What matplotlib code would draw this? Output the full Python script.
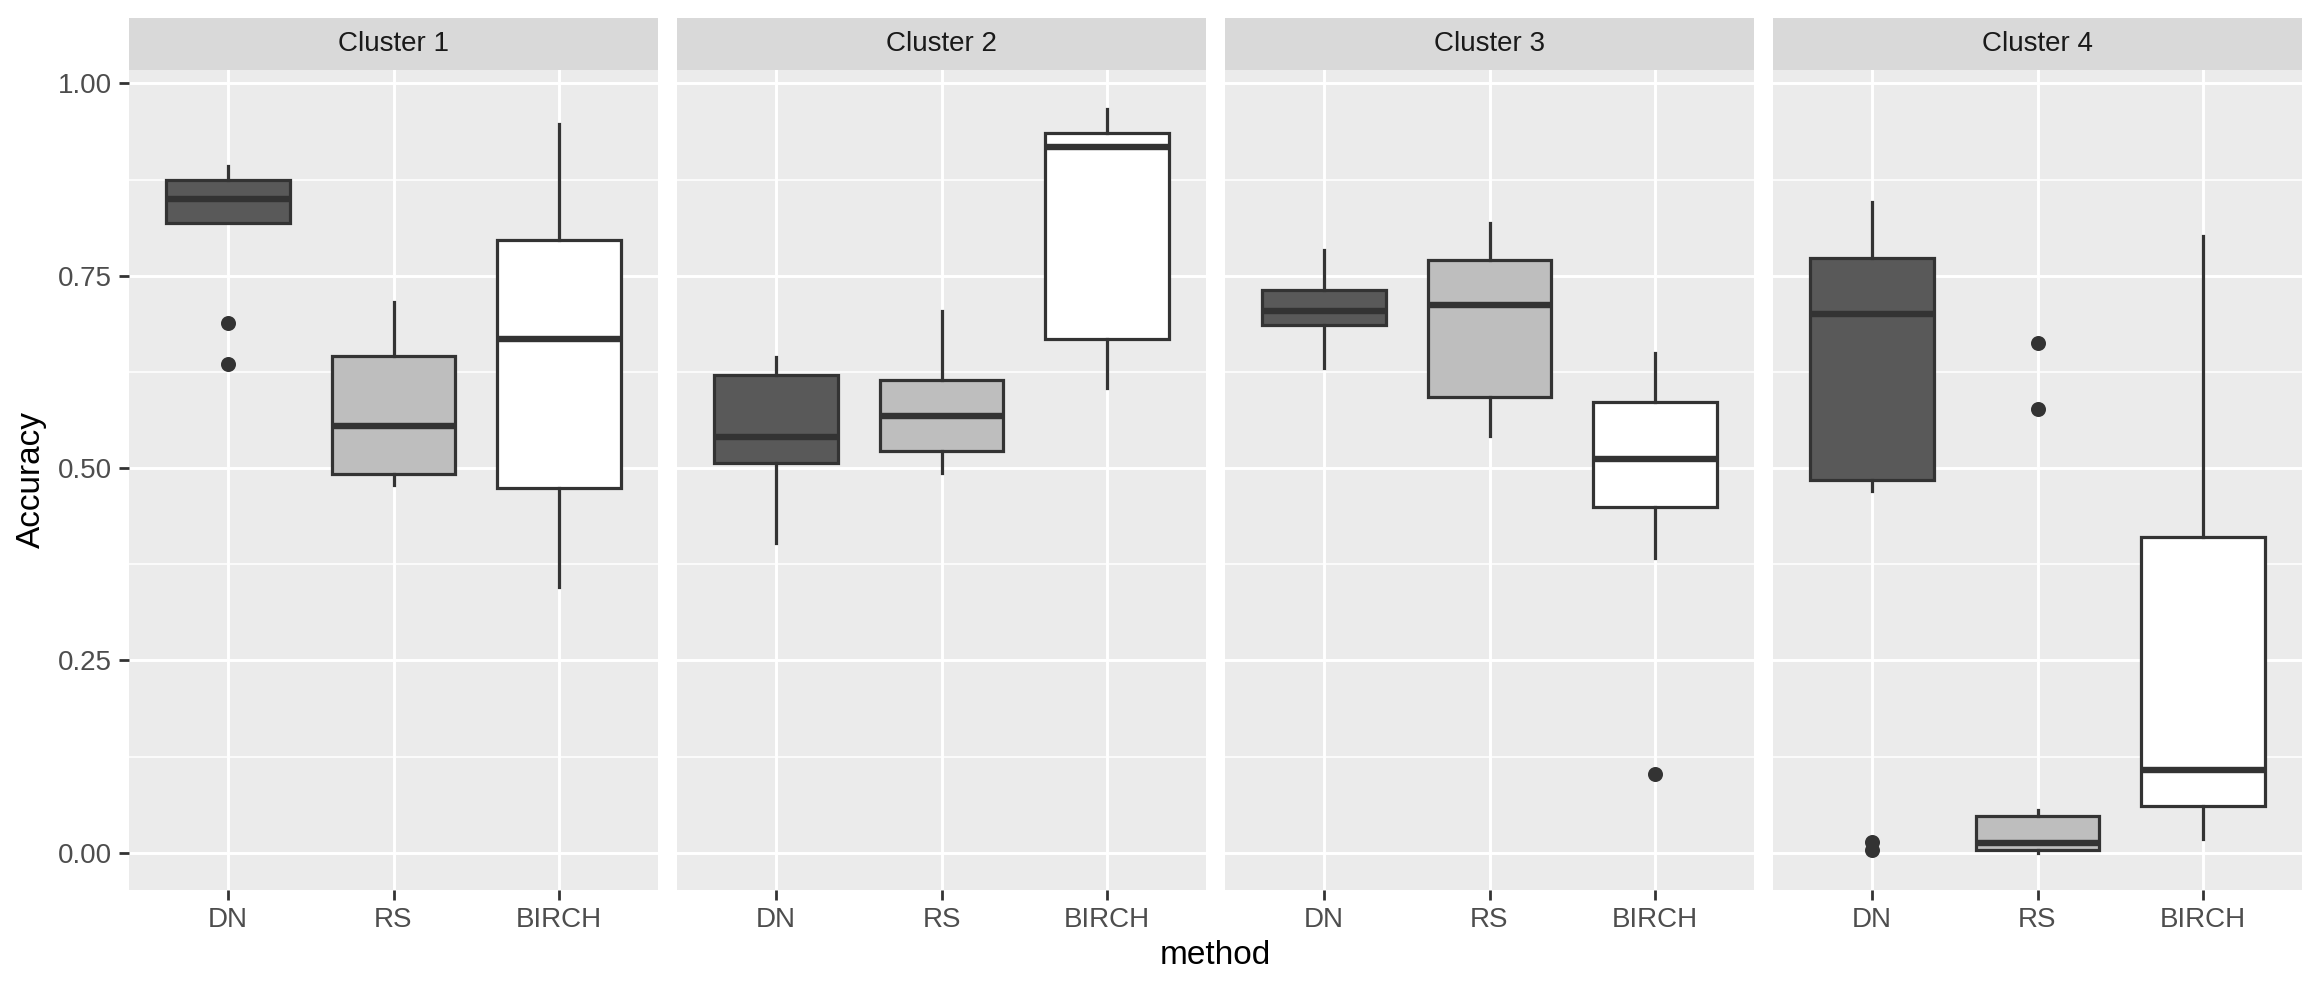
import matplotlib
matplotlib.use("Agg")
import matplotlib.pyplot as plt
import numpy as np

plt.rcParams["font.family"] = ["Liberation Sans", "DejaVu Sans"]

# facets and methods
clusters = ["Cluster 1", "Cluster 2", "Cluster 3", "Cluster 4"]
methods = ["DN", "RS", "BIRCH"]
fills = ["#595959", "#BEBEBE", "#FFFFFF"]

# box stats per cluster, order DN, RS, BIRCH
whislo = [[0.819, 0.478, 0.346],
          [0.402, 0.493, 0.604],
          [0.630, 0.542, 0.383],
          [0.470, 0.000, 0.018]]
q1 = [[0.819, 0.492, 0.474],
      [0.507, 0.522, 0.668],
      [0.686, 0.593, 0.450],
      [0.484, 0.004, 0.061]]
med = [[0.850, 0.555, 0.668],
       [0.540, 0.568, 0.917],
       [0.704, 0.712, 0.512],
       [0.700, 0.012, 0.107]]
q3 = [[0.875, 0.646, 0.796],
      [0.621, 0.614, 0.936],
      [0.731, 0.771, 0.586],
      [0.773, 0.048, 0.411]]
whishi = [[0.893, 0.716, 0.947],
          [0.644, 0.704, 0.967],
          [0.784, 0.819, 0.650],
          [0.846, 0.056, 0.802]]
fliers = [[[0.688, 0.635], [], []],
          [[], [], []],
          [[], [], [0.102]],
          [[0.014, 0.004], [0.663, 0.577], []]]

line_col = "#333333"
W, H = 2320, 990
fig = plt.figure(figsize=(W / 200, H / 200), dpi=200)

lefts = [129, 677, 1225, 1773]
pw = 529
top_px, bot_px, strip_px = 70, 890, 52

for k, name in enumerate(clusters):
    ax = fig.add_axes([lefts[k] / W, (H - bot_px) / H, pw / W, (bot_px - top_px) / H])
    ax.set_facecolor("#EBEBEB")
    for s in ax.spines.values():
        s.set_visible(False)

    stats = []
    for j in range(3):
        stats.append(dict(whislo=whislo[k][j], q1=q1[k][j], med=med[k][j],
                          q3=q3[k][j], whishi=whishi[k][j], fliers=fliers[k][j]))
    bp = ax.bxp(stats, positions=[1, 2, 3], widths=0.75, patch_artist=True,
                showcaps=False,
                boxprops=dict(edgecolor=line_col, linewidth=1.15),
                whiskerprops=dict(color=line_col, linewidth=1.15),
                medianprops=dict(color=line_col, linewidth=2.3, solid_capstyle="butt"),
                flierprops=dict(marker="o", markerfacecolor=line_col,
                                markeredgecolor=line_col, markersize=4.4))
    for patch, fc in zip(bp["boxes"], fills):
        patch.set_facecolor(fc)
    for b in bp["boxes"] + bp["whiskers"] + bp["medians"] + bp["fliers"]:
        b.set_zorder(3)

    ax.set_xlim(0.4, 3.6)
    ax.set_ylim(-0.0485, 1.0175)
    ax.set_yticks([0, 0.25, 0.5, 0.75, 1.0])
    ax.set_yticks([0.125, 0.375, 0.625, 0.875], minor=True)
    ax.set_xticks([1, 2, 3])
    ax.set_xticklabels(methods)
    ax.grid(which="major", color="white", linewidth=1.05, zorder=0)
    ax.grid(which="minor", axis="y", color="white", linewidth=0.55, zorder=0)
    ax.set_axisbelow(True)
    ax.tick_params(axis="both", which="major", length=3.5, width=1.0, color=line_col,
                   labelsize=10, labelcolor="#4D4D4D", pad=2.5)
    ax.tick_params(axis="both", which="minor", length=0)
    if k == 0:
        ax.set_yticklabels(["0.00", "0.25", "0.50", "0.75", "1.00"])
        ax.set_ylabel("Accuracy", fontsize=12, color="black", labelpad=4)
    else:
        ax.tick_params(axis="y", which="major", length=0, labelleft=False)

    sax = fig.add_axes([lefts[k] / W, (H - top_px) / H, pw / W, strip_px / H])
    sax.set_facecolor("#D9D9D9")
    sax.set_xticks([])
    sax.set_yticks([])
    for s in sax.spines.values():
        s.set_visible(False)
    sax.text(0.5, 0.5, name, ha="center", va="center", fontsize=10,
             color="#1A1A1A", transform=sax.transAxes)

fig.text((lefts[0] + lefts[3] + pw) / 2 / W, (H - 955) / H, "method",
         ha="center", va="center", fontsize=12, color="black")

fig.savefig("out.png", dpi=200, facecolor="white")
